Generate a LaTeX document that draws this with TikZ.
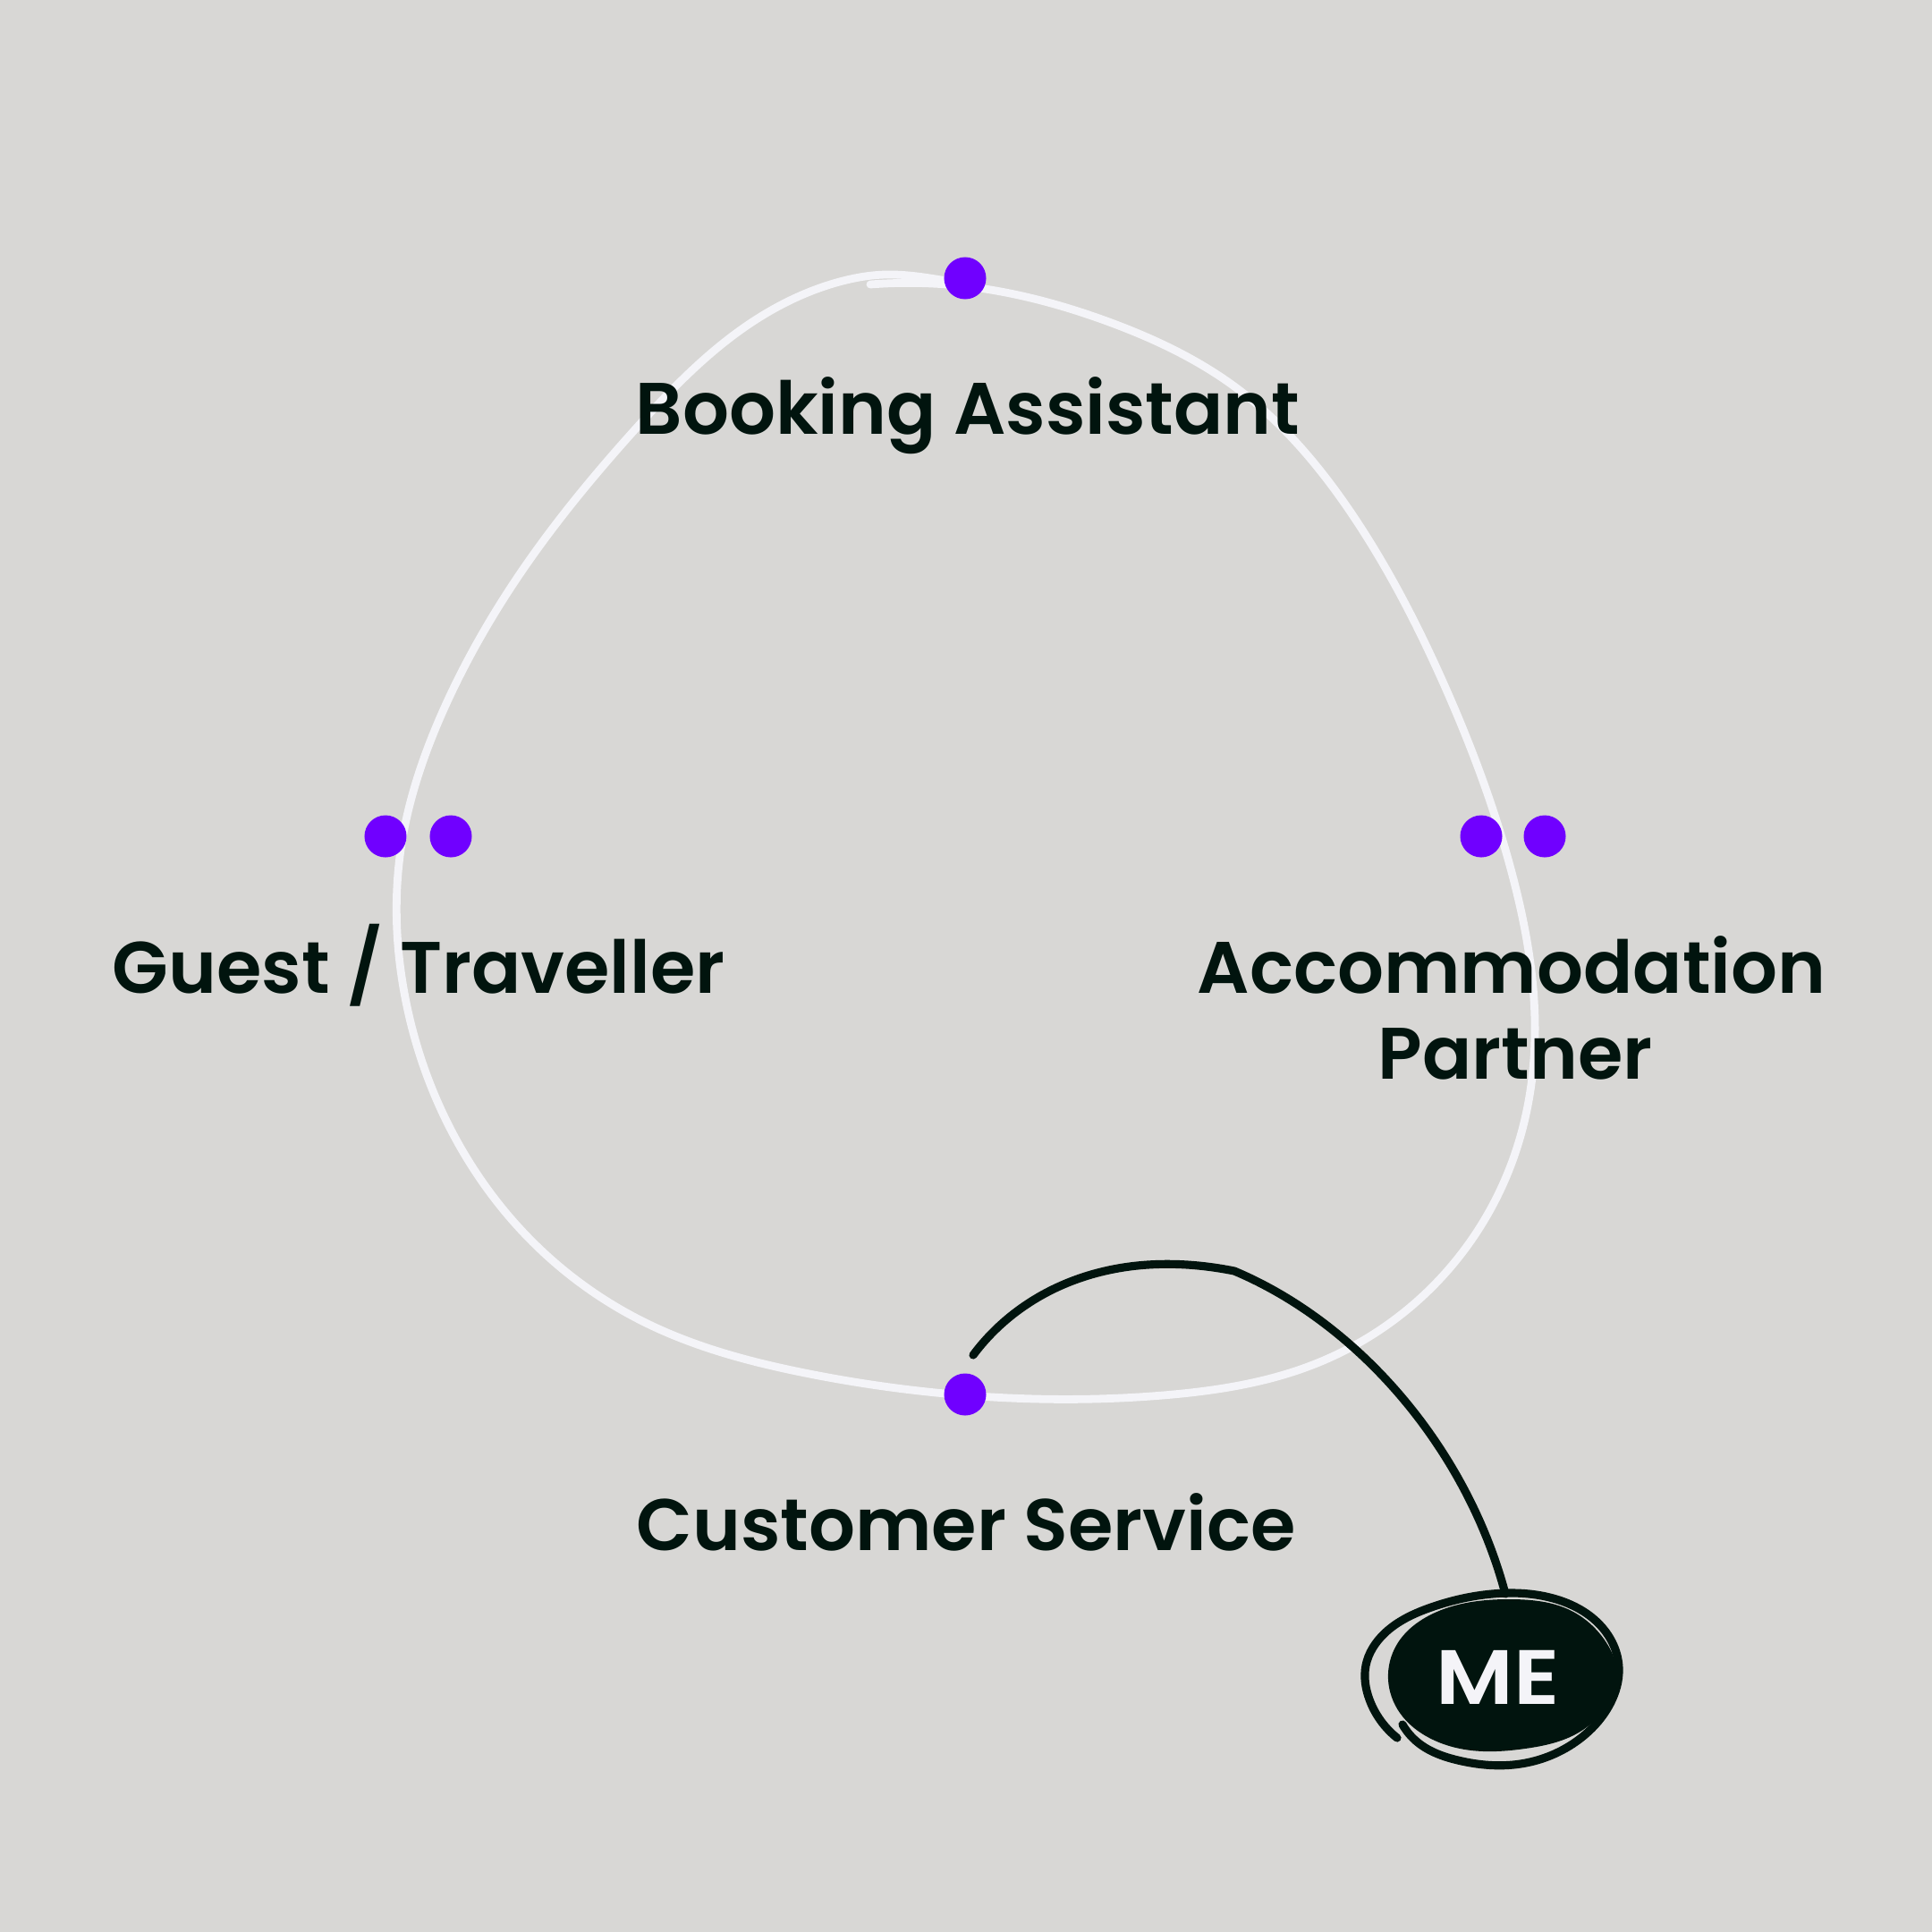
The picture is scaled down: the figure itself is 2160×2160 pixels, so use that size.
\documentclass[tikz,border=0pt]{standalone}
\usepackage{fontspec}
\newfontfamily\popfont{Poppins SemiBold}
\usetikzlibrary{hobby}
\definecolor{bg}{HTML}{D8D7D5}
\definecolor{vio}{HTML}{7000FF}
\definecolor{ink}{HTML}{01140E}
\definecolor{loopwhite}{HTML}{F4F4F8}
\tikzset{
  dot/.style={circle, fill=vio, inner sep=0pt, minimum size=0.47cm},
  lbl/.style={anchor=base, text=ink, font=\popfont\fontsize{23.2}{28}\selectfont, inner sep=0pt},
  loopline/.style={draw=loopwhite, line width=2.5pt, line cap=round, line join=round},
  conn/.style={draw=ink, line width=2.6pt, line cap=round, line join=round},
}
\begin{document}
\begin{tikzpicture}[x=0.01cm, y=-0.01cm]
\useasboundingbox (0,0) rectangle (2160,2160);
\fill[bg] (0,0) rectangle (2160,2160);

% white loop
\draw[loopline] plot[hobby] coordinates {
 (973,318) (1079,320) (1240,360) (1380,432) (1513,577) (1613,762)
 (1690,975) (1716,1160) (1692,1295) (1605,1435) (1470,1525) (1300,1560)
 (1080,1560) (900,1535) (720,1478) (592,1385) (500,1255) (452,1110)
 (448,950) (497,791) (592,626) (711,479) (841,360) (935,316) (990,307)
 (1040,311) (1079,318)};

% labels
\node[lbl] (booking) at (1082,485) {Booking Assistant};
\node[lbl] (guest) at (468,1110) {Guest / Traveller};
\node[lbl] (accom) at (1690,1110) {Accommodation};
\node[lbl] (partner) at (1694,1206) {Partner};
\node[lbl] (cs) at (1080,1733) {Customer Service};

% dots
\node[dot] (dtop) at (1079,311) {};
\node[dot] (dl1) at (431,935) {};
\node[dot] (dl2) at (504,935) {};
\node[dot] (dr1) at (1656,935) {};
\node[dot] (dr2) at (1727,935) {};
\node[dot] (dbot) at (1079,1559) {};

% ME blob
\fill[ink] plot[closed hobby] coordinates {
 (1690,1788) (1755,1800) (1795,1835) (1808,1875) (1796,1908) (1765,1937)
 (1705,1955) (1645,1957) (1598,1943) (1565,1915) (1552,1878) (1562,1838)
 (1600,1805)};
\draw[conn] plot[hobby] coordinates {
 (1562,1943) (1531,1900) (1527,1862) (1548,1826) (1600,1797) (1668,1782)
 (1740,1788) (1790,1818) (1810,1865) (1800,1905) (1765,1945) (1700,1972)
 (1630,1968) (1585,1948) (1568,1928)};
\node[text=loopwhite, font=\popfont\fontsize{24.5}{28}\selectfont, inner sep=0pt, anchor=base] (me) at (1675,1905) {\scalebox{1.12}[1]{ME}};

% connector
\coordinate (cstart) at (1088,1515);
\coordinate (cmid) at (1380,1421);
\coordinate (cend) at (1683,1782);
\draw[conn] (cstart) .. controls (1140,1445) and (1240,1393) .. (cmid)
  .. controls (1520,1480) and (1640,1620) .. (cend);
\end{tikzpicture}
\end{document}
